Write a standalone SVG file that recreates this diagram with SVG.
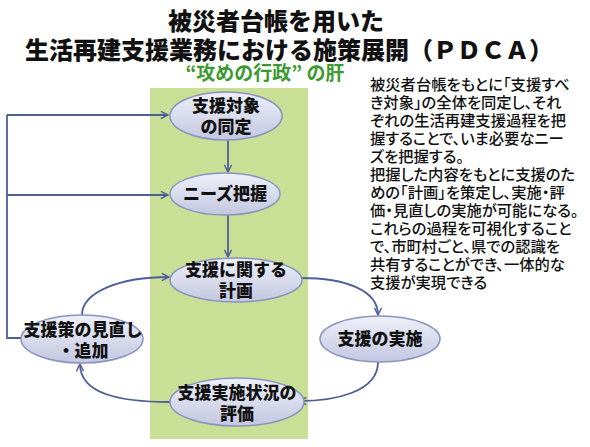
<svg xmlns="http://www.w3.org/2000/svg" width="590" height="447" viewBox="0 0 590 447">
  <defs>
    <linearGradient id="ell" x1="0" y1="0" x2="0" y2="1">
      <stop offset="0" stop-color="#eef0f9"/>
      <stop offset="1" stop-color="#c3c7e0"/>
    </linearGradient>
    <marker id="arr" viewBox="0 0 10 10" refX="9" refY="5" markerWidth="9" markerHeight="9" markerUnits="userSpaceOnUse" orient="auto">
      <path d="M1,1 L9,5 L1,9" fill="none" stroke="#4d5f96" stroke-width="1.6"/>
    </marker>
  </defs>
  <style>
    .title{font-family:"Noto Sans CJK JP","Noto Sans",sans-serif;font-weight:900;fill:#111;font-size:24px;text-anchor:middle;}
    .sub{font-family:"Noto Sans CJK JP","Noto Sans",sans-serif;font-weight:700;fill:#3c9a30;font-size:19px;text-anchor:middle;}
    .body text{font-family:"Noto Sans CJK JP","Noto Sans",sans-serif;font-weight:500;fill:#111;font-size:15.3px;font-feature-settings:"palt";}
    .node ellipse{fill:url(#ell);stroke:#8a92bf;stroke-width:1.5;}
    .node text{font-family:"Noto Sans CJK JP","Noto Sans",sans-serif;font-weight:900;font-size:17px;fill:#111;text-anchor:middle;}
    .conn path{fill:none;stroke:#4d5f96;stroke-width:1.8;}
  </style>
  <rect width="590" height="447" fill="#ffffff"/>
  <rect x="150" y="88" width="158" height="351" fill="#c8df95"/>

  <g id="title">
    <text class="title" x="276" y="30">被災者台帳を用いた</text>
    <text class="title" x="289" y="59">生活再建支援業務における施策展開（ＰＤＣＡ）</text>
    <text class="sub" x="265" y="80">“攻めの行政” の肝</text>
  </g>

  <g id="note" class="body">
    <text x="370" y="90">被災者台帳をもとに「支援すべ</text>
    <text x="370" y="108">き対象」の全体を同定し、それ</text>
    <text x="370" y="126">ぞれの生活再建支援過程を把</text>
    <text x="370" y="144">握することで、いま必要なニー</text>
    <text x="370" y="162">ズを把握する。</text>
    <text x="370" y="180">把握した内容をもとに支援のた</text>
    <text x="370" y="198">めの「計画」を策定し、実施・評</text>
    <text x="370" y="216">価・見直しの実施が可能になる。</text>
    <text x="370" y="234">これらの過程を可視化すること</text>
    <text x="370" y="252">で、市町村ごと、県での認識を</text>
    <text x="370" y="270">共有することができ、一体的な</text>
    <text x="370" y="288">支援が実現できる</text>
  </g>

  <g id="connectors" class="conn">
    <path d="M7,115 L7,338 L21,338"/>
    <path d="M7,115 L168,115" marker-end="url(#arr)"/>
    <path d="M7,195 L168,195" marker-end="url(#arr)"/>
    <path d="M228,139 L228,172" marker-end="url(#arr)"/>
    <path d="M228,215 L228,257" marker-end="url(#arr)"/>
    <path d="M82,315 C82,292 120,277 169,277" marker-end="url(#arr)"/>
    <path d="M301,278 C345,278 378,290 378,315" marker-end="url(#arr)"/>
    <path d="M378,362 C378,392 335,401 299,401" marker-end="url(#arr)"/>
    <path d="M170,402 C120,402 80,394 80,364" marker-end="url(#arr)"/>
  </g>

  <g id="n1" class="node">
    <ellipse cx="226" cy="116" rx="56" ry="24"/>
    <text x="226" y="112">支援対象</text>
    <text x="226" y="133">の同定</text>
  </g>
  <g id="n2" class="node">
    <ellipse cx="225" cy="194" rx="55" ry="21"/>
    <text x="225" y="200">ニーズ把握</text>
  </g>
  <g id="n3" class="node">
    <ellipse cx="236" cy="280" rx="66" ry="22"/>
    <text x="236" y="276">支援に関する</text>
    <text x="236" y="297">計画</text>
  </g>
  <g id="n4" class="node">
    <ellipse cx="82" cy="339" rx="61" ry="24"/>
    <text x="83" y="336">支援策の見直し</text>
    <text x="83" y="357">・追加</text>
  </g>
  <g id="n5" class="node">
    <ellipse cx="380" cy="339" rx="60" ry="23"/>
    <text x="380" y="345">支援の実施</text>
  </g>
  <g id="n6" class="node">
    <ellipse cx="237" cy="402" rx="67" ry="24"/>
    <text x="237" y="399">支援実施状況の</text>
    <text x="237" y="420">評価</text>
  </g>
</svg>
